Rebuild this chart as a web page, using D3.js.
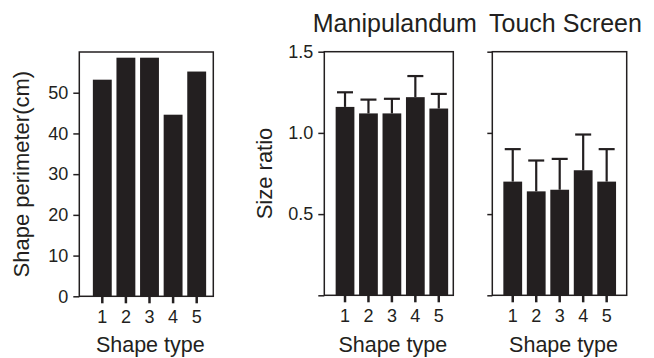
<!DOCTYPE html>
<html>
<head>
<meta charset="utf-8">
<script src="https://cdnjs.cloudflare.com/ajax/libs/d3/7.8.5/d3.min.js"></script>
<style>
  body { margin: 0; background: #fff; }
  text { font-family: "Liberation Sans", Arial, sans-serif; fill: #231f20; }
</style>
</head>
<body>
<div class="canvas"></div>
<script>
// data
const shapeTypes = ['1', '2', '3', '4', '5'];
const perimeter = [53.2, 58.6, 58.6, 44.6, 55.2];
const manipMean = [1.16, 1.12, 1.12, 1.22, 1.15];
const manipErr = [0.09, 0.085, 0.09, 0.13, 0.09];
const touchMean = [0.70, 0.64, 0.65, 0.77, 0.70];
const touchErr = [0.20, 0.19, 0.19, 0.22, 0.20];
const perimTicks = [0, 10, 20, 30, 40, 50];
const ratioTicks = [0, 0.5, 1.0, 1.5];

const ink = '#231f20';

const svg = d3.select('.canvas')
  .append('svg')
  .attr('width', 654)
  .attr('height', 358);

// panel layout
const panels = [
  {x0: 79.3, x1: 213.3, y0: 52, y1: 296.3, bandL: 90.5, bandR: 208.5,
   domain: [0, 60], ticks: perimTicks, tickLabel: d => d, values: perimeter, errs: null,
   ylabel: 'Shape perimeter(cm)', ylabelX: 29, title: null, tickLen: 6},
  {x0: 324.3, x1: 453.3, y0: 51.7, y1: 295.3, bandL: 333.3, bandR: 450.5,
   domain: [0, 1.5], ticks: ratioTicks, tickLabel: d => d === 0 ? '' : d3.format('.1f')(d),
   values: manipMean, errs: manipErr, ylabel: 'Size ratio', ylabelX: 271.5,
   title: 'Manipulandum', tickLen: 6},
  {x0: 492.3, x1: 626.7, y0: 51.7, y1: 295.3, bandL: 501, bandR: 618.4,
   domain: [0, 1.5], ticks: ratioTicks, tickLabel: () => '',
   values: touchMean, errs: touchErr, ylabel: null, title: 'Touch Screen', tickLen: 5}
];

panels.forEach(p => {
  const g = svg.append('g');

  const x = d3.scaleBand()
    .domain(shapeTypes)
    .range([p.bandL, p.bandR])
    .paddingInner(0.2)
    .paddingOuter(0.1);

  const y = d3.scaleLinear()
    .domain(p.domain)
    .range([p.y1, p.y0]);

  // bars
  g.selectAll('rect.bar')
    .data(p.values)
    .enter()
    .append('rect')
    .attr('class', 'bar')
    .attr('x', (d, i) => x(shapeTypes[i]))
    .attr('width', x.bandwidth())
    .attr('y', d => y(d))
    .attr('height', d => y(0) - y(d))
    .attr('fill', ink);

  // upward error bars
  if (p.errs) {
    const cap = 8;
    const eb = g.selectAll('g.err')
      .data(p.values.map((d, i) => ({m: d, e: p.errs[i], k: shapeTypes[i]})))
      .enter()
      .append('g')
      .attr('class', 'err')
      .attr('stroke', ink)
      .attr('stroke-width', 2.2);
    eb.append('line')
      .attr('x1', d => x(d.k) + x.bandwidth() / 2)
      .attr('x2', d => x(d.k) + x.bandwidth() / 2)
      .attr('y1', d => y(d.m))
      .attr('y2', d => y(d.m + d.e));
    eb.append('line')
      .attr('x1', d => x(d.k) + x.bandwidth() / 2 - cap)
      .attr('x2', d => x(d.k) + x.bandwidth() / 2 + cap)
      .attr('y1', d => y(d.m + d.e))
      .attr('y2', d => y(d.m + d.e));
  }

  // frame
  g.append('rect')
    .attr('x', p.x0)
    .attr('y', p.y0)
    .attr('width', p.x1 - p.x0)
    .attr('height', p.y1 - p.y0)
    .attr('fill', 'none')
    .attr('stroke', ink)
    .attr('stroke-width', 1.5);

  // y axis
  const yAxis = d3.axisLeft(y)
    .tickValues(p.ticks)
    .tickFormat(p.tickLabel)
    .tickSize(p.tickLen)
    .tickPadding(5);
  const ya = g.append('g')
    .attr('transform', `translate(${p.x0},0)`)
    .call(yAxis);
  ya.select('.domain').remove();
  ya.selectAll('line').attr('stroke', ink).attr('stroke-width', 1.5);
  ya.selectAll('text').attr('font-size', 18).attr('fill', ink);

  // x axis
  const xAxis = d3.axisBottom(x)
    .tickSize(7)
    .tickPadding(7);
  const xa = g.append('g')
    .attr('transform', `translate(0,${p.y1})`)
    .call(xAxis);
  xa.select('.domain').remove();
  xa.selectAll('line').attr('stroke', ink).attr('stroke-width', 2.5);
  xa.selectAll('text').attr('font-size', 18).attr('fill', ink);

  // x label
  g.append('text')
    .attr('x', (p.x0 + p.x1) / 2 + 4)
    .attr('y', 352)
    .attr('text-anchor', 'middle')
    .attr('font-size', 21.5)
    .text('Shape type');

  if (p.ylabel) {
    g.append('text')
      .attr('transform', `translate(${p.ylabelX},${(p.y0 + p.y1) / 2}) rotate(-90)`)
      .attr('text-anchor', 'middle')
      .attr('font-size', 22)
      .text(p.ylabel);
  }

  if (p.title) {
    g.append('text')
      .attr('x', (p.x0 + p.x1) / 2 + 6)
      .attr('y', 32)
      .attr('text-anchor', 'middle')
      .attr('font-size', 25)
      .text(p.title);
  }
});
</script>
</body>
</html>
